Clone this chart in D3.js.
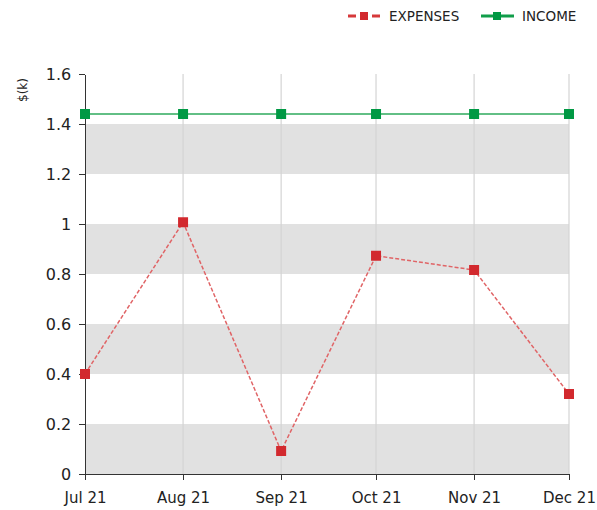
<!DOCTYPE html>
<html lang="en">
<head>
<meta charset="utf-8">
<title>Expenses and income</title>
<script src="https://cdn.jsdelivr.net/npm/d3@7"></script>
<style>
body { margin:0; background:#fff; font-family:'DejaVu Sans', sans-serif; }
.axis path, .axis line { stroke:#333; stroke-width:1.5px; shape-rendering:crispEdges; }
.axis text { font-family:'DejaVu Sans', sans-serif; font-size:16px; fill:#222; }
.legend text { font-family:'DejaVu Sans', sans-serif; font-size:13.5px; fill:#222; }
</style>
</head>
<body>
<svg width="597" height="510"></svg>
<script>
var months = ["2021-07-01","2021-08-01","2021-09-01","2021-10-01","2021-11-01","2021-12-01"];
var monthLabels = ["Jul 21","Aug 21","Sep 21","Oct 21","Nov 21","Dec 21"];
var expenses = [0.40, 1.007, 0.092, 0.873, 0.816, 0.32];
var income = [1.44, 1.44, 1.44, 1.44, 1.44, 1.44];
var yTicks = [0, 0.2, 0.4, 0.6, 0.8, 1, 1.2, 1.4, 1.6];

var parse = d3.timeParse("%Y-%m-%d");
var dates = months.map(parse);

var svg = d3.select("svg"),
    margin = {top: 74, right: 28, bottom: 36, left: 85},
    width = 597 - margin.left - margin.right,
    height = 510 - margin.top - margin.bottom;

var x = d3.scaleTime().domain(d3.extent(dates)).range([0, width]);
var y = d3.scaleLinear().domain([0, 1.6]).range([height, 0]);

var g = svg.append("g").attr("transform", "translate(" + margin.left + "," + margin.top + ")");

// alternating bands
var bands = d3.range(0, yTicks.length - 1).filter(function(i) { return i % 2 == 0; });
g.selectAll(".band").data(bands).enter().append("rect")
  .attr("x", 0).attr("width", width)
  .attr("y", function(i) { return y(yTicks[i + 1]); })
  .attr("height", function(i) { return y(yTicks[i]) - y(yTicks[i + 1]); })
  .attr("fill", "#e1e1e1");

// vertical grid
g.selectAll(".vgrid").data(dates.slice(1)).enter().append("line")
  .attr("x1", function(d) { return x(d); }).attr("x2", function(d) { return x(d); })
  .attr("y1", 0).attr("y2", height)
  .attr("stroke", "#d4d4d4").attr("stroke-width", 1.2);

g.append("g").attr("class", "axis")
  .attr("transform", "translate(0," + height + ")")
  .call(d3.axisBottom(x).tickValues(dates).tickSize(6).tickSizeOuter(0)
    .tickFormat(function(d, i) { return monthLabels[i]; }))
  .selectAll("text").attr("y", 18).style("font-size", "15px");

g.append("g").attr("class", "axis")
  .call(d3.axisLeft(y).tickValues(yTicks).tickSize(6).tickSizeOuter(0)
    .tickFormat(function(d) { return d3.format("")(+d.toFixed(1)); }))
  .selectAll("text").attr("dx", "-0.3em");

svg.append("text")
  .attr("transform", "translate(27,90) rotate(-90)")
  .attr("text-anchor", "middle")
  .style("font-size", "12px").style("fill", "#222")
  .text("$(k)");

var line = d3.line()
  .x(function(d, i) { return x(dates[i]); })
  .y(function(d) { return y(d); });

g.append("path").datum(income)
  .attr("d", line).attr("fill", "none")
  .attr("stroke", "#2eaa5c").attr("stroke-width", 1.6);

g.append("path").datum(expenses)
  .attr("d", line).attr("fill", "none")
  .attr("stroke", "#e06466").attr("stroke-width", 1.5)
  .attr("stroke-dasharray", "4,2");

g.selectAll(".inc").data(income).enter().append("rect")
  .attr("x", function(d, i) { return x(dates[i]) - 5; })
  .attr("y", function(d) { return y(d) - 5; })
  .attr("width", 10).attr("height", 10)
  .attr("fill", "#009944");

g.selectAll(".exp").data(expenses).enter().append("rect")
  .attr("x", function(d, i) { return x(dates[i]) - 5; })
  .attr("y", function(d) { return y(d) - 5; })
  .attr("width", 10).attr("height", 10)
  .attr("fill", "#d2292e");

// legend
var legend = svg.append("g").attr("class", "legend");
var items = [
  {name: "EXPENSES", x: 348, color: "#d6393b", mark: "#d2292e", dash: "8,4"},
  {name: "INCOME", x: 481, color: "#119e4a", mark: "#009944", dash: null}
];
items.forEach(function(it) {
  var lg = legend.append("g").attr("transform", "translate(" + it.x + ",16)");
  lg.append("line").attr("x1", 0).attr("x2", 33).attr("y1", 0).attr("y2", 0)
    .attr("stroke", it.color).attr("stroke-width", 3)
    .attr("stroke-dasharray", it.dash);
  lg.append("rect").attr("x", 12).attr("y", -4).attr("width", 8).attr("height", 8).attr("fill", it.mark);
  lg.append("text").attr("x", 41).attr("y", 0).attr("dy", "0.35em").text(it.name);
});
</script>
</body>
</html>
